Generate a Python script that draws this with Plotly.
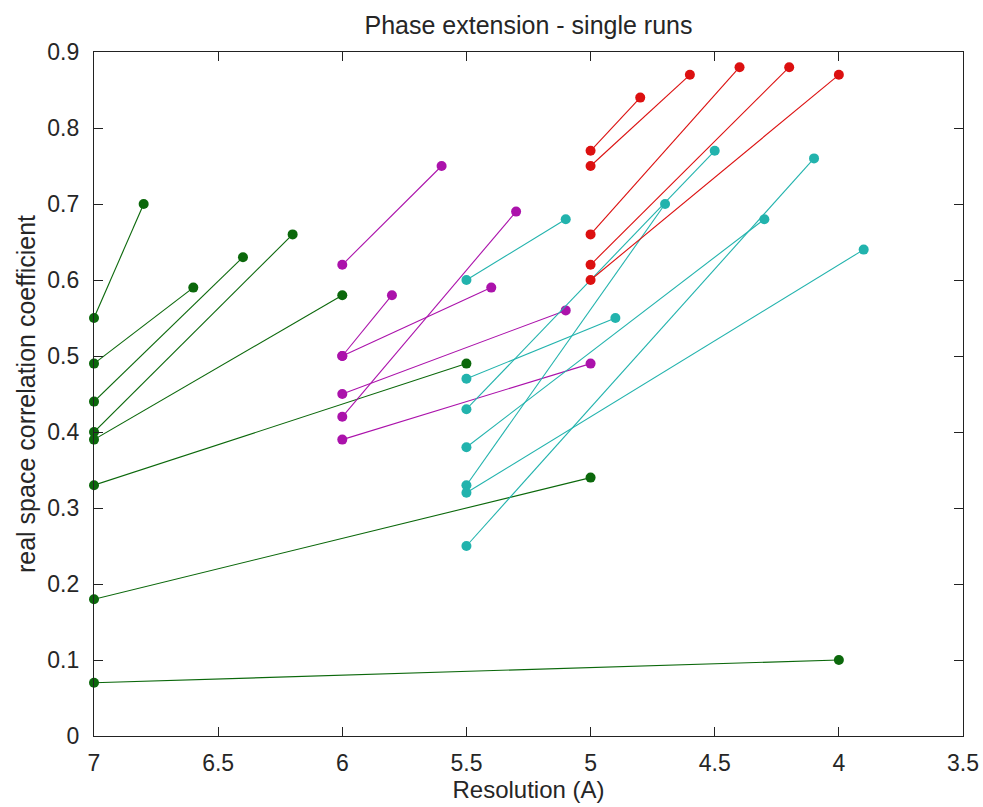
import plotly.graph_objects as go

# Resolution (A) at start/end of each run, and real space correlation coefficient
green_x0 = [7.0, 7.0, 7.0, 7.0, 7.0, 7.0, 7.0, 7.0]
green_y0 = [0.55, 0.49, 0.44, 0.40, 0.39, 0.33, 0.18, 0.07]
green_x1 = [6.8, 6.6, 6.4, 6.2, 6.0, 5.5, 5.0, 4.0]
green_y1 = [0.70, 0.59, 0.63, 0.66, 0.58, 0.49, 0.34, 0.10]

purple_x0 = [6.0, 6.0, 6.0, 6.0, 6.0, 6.0]
purple_y0 = [0.62, 0.50, 0.50, 0.45, 0.42, 0.39]
purple_x1 = [5.6, 5.8, 5.4, 5.1, 5.3, 5.0]
purple_y1 = [0.75, 0.58, 0.59, 0.56, 0.69, 0.49]

cyan_x0 = [5.5, 5.5, 5.5, 5.5, 5.5, 5.5, 5.5]
cyan_y0 = [0.60, 0.47, 0.43, 0.38, 0.33, 0.32, 0.25]
cyan_x1 = [5.1, 4.9, 4.5, 4.3, 4.7, 3.9, 4.1]
cyan_y1 = [0.68, 0.55, 0.77, 0.68, 0.70, 0.64, 0.76]

red_x0 = [5.0, 5.0, 5.0, 5.0, 5.0]
red_y0 = [0.77, 0.75, 0.66, 0.62, 0.60]
red_x1 = [4.8, 4.6, 4.4, 4.2, 4.0]
red_y1 = [0.84, 0.87, 0.88, 0.88, 0.87]

x_ticks = [7, 6.5, 6, 5.5, 5, 4.5, 4, 3.5]
x_tick_labels = ["7", "6.5", "6", "5.5", "5", "4.5", "4", "3.5"]
y_ticks = [0, 0.1, 0.2, 0.3, 0.4, 0.5, 0.6, 0.7, 0.8, 0.9]
y_tick_labels = ["0", "0.1", "0.2", "0.3", "0.4", "0.5", "0.6", "0.7", "0.8", "0.9"]

groups = [
    ("green", green_x0, green_y0, green_x1, green_y1, "#0b680b"),
    ("purple", purple_x0, purple_y0, purple_x1, purple_y1, "#ab12ab"),
    ("cyan", cyan_x0, cyan_y0, cyan_x1, cyan_y1, "#22b3ad"),
    ("red", red_x0, red_y0, red_x1, red_y1, "#dc1010"),
]

FONT = "Liberation Sans, Arial, sans-serif"
TXT = "#262626"
W, H = 983, 807

fig = go.Figure()
for name, x0, y0, x1, y1, col in groups:
    xs, ys = [], []
    for a, b, c, d in zip(x0, y0, x1, y1):
        xs += [a, c, None]
        ys += [b, d, None]
    fig.add_trace(go.Scatter(
        x=xs, y=ys, mode="lines+markers", name=name,
        line=dict(color=col, width=1.1),
        marker=dict(color=col, size=10, line=dict(width=0)),
        connectgaps=False, showlegend=False, cliponaxis=False,
    ))

axis_common = dict(
    showline=True, linecolor="#222", linewidth=1.3, mirror="ticks",
    ticks="inside", ticklen=9, tickcolor="#222", tickwidth=1.3,
    showgrid=False, zeroline=False, automargin=False,
    tickfont=dict(family=FONT, size=23, color=TXT),
)

fig.update_xaxes(
    range=[7, 3.5], tickvals=x_ticks, ticktext=x_tick_labels,
    title=dict(text="Resolution (A)", font=dict(family=FONT, size=24, color=TXT), standoff=6),
    ticklabelstandoff=6,
    **axis_common,
)
fig.update_yaxes(
    range=[0, 0.9], tickvals=y_ticks, ticktext=y_tick_labels,
    title=dict(text="real space correlation coefficient", font=dict(family=FONT, size=25, color=TXT), standoff=4),
    ticklabelstandoff=9,
    **axis_common,
)

fig.update_layout(
    width=W, height=H,
    margin=dict(l=94, r=20, t=52, b=71),
    paper_bgcolor="white", plot_bgcolor="white",
    title=dict(text="Phase extension - single runs", x=0.5, xref="paper",
               xanchor="center", y=1 - 25 / H, yanchor="middle",
               font=dict(family=FONT, size=25, color=TXT)),
    showlegend=False,
)

fig.write_html(
    "out.html",
    config={"displayModeBar": False},
    post_script="document.body.style.margin='0';document.body.style.overflow='hidden';",
)
